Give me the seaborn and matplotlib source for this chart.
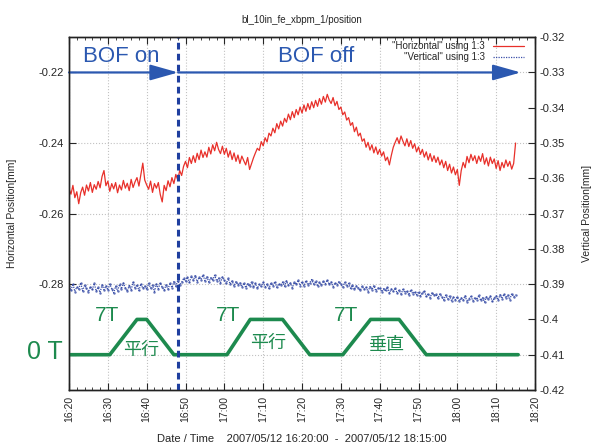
import seaborn as sns
import matplotlib.pyplot as plt
import matplotlib.dates as mdates
import matplotlib.ticker as mticker
import pandas as pd

# horizontal position [mm], one reading every 30 s from 16:20:00
horizontal = [
    -0.2530, -0.2545, -0.2520, -0.2555, -0.2538, -0.2572, -0.2541, -0.2525, -0.2548, -0.2519,
    -0.2536, -0.2512, -0.2540, -0.2518, -0.2531, -0.2509, -0.2527, -0.2495, -0.2478, -0.2521,
    -0.2508, -0.2537, -0.2515, -0.2530, -0.2512, -0.2541, -0.2519, -0.2533, -0.2506, -0.2528,
    -0.2514, -0.2535, -0.2503, -0.2526, -0.2510, -0.2498, -0.2522, -0.2489, -0.2457, -0.2505,
    -0.2519, -0.2531, -0.2508, -0.2540, -0.2515, -0.2528, -0.2512, -0.2546, -0.2567, -0.2520,
    -0.2535, -0.2507, -0.2524, -0.2498, -0.2515, -0.2489, -0.2505, -0.2478, -0.2492, -0.2466,
    -0.2452, -0.2470, -0.2441, -0.2458, -0.2436, -0.2455, -0.2429, -0.2447, -0.2420, -0.2441,
    -0.2425, -0.2440, -0.2412, -0.2431, -0.2405, -0.2422, -0.2398, -0.2418, -0.2430, -0.2409,
    -0.2432, -0.2415, -0.2440, -0.2422, -0.2447, -0.2428, -0.2452, -0.2434, -0.2458, -0.2437,
    -0.2450, -0.2462, -0.2441, -0.2475, -0.2458, -0.2442, -0.2428, -0.2415, -0.2421, -0.2396,
    -0.2408, -0.2385, -0.2397, -0.2372, -0.2380, -0.2358, -0.2371, -0.2345, -0.2360, -0.2338,
    -0.2352, -0.2330, -0.2341, -0.2318, -0.2334, -0.2311, -0.2328, -0.2305, -0.2320, -0.2298,
    -0.2315, -0.2292, -0.2310, -0.2288, -0.2305, -0.2283, -0.2300, -0.2279, -0.2296, -0.2274,
    -0.2290, -0.2268, -0.2284, -0.2262, -0.2278, -0.2288, -0.2271, -0.2294, -0.2282, -0.2305,
    -0.2298, -0.2320, -0.2312, -0.2335, -0.2328, -0.2350, -0.2342, -0.2368, -0.2355, -0.2380,
    -0.2372, -0.2395, -0.2388, -0.2412, -0.2398, -0.2420, -0.2405, -0.2428, -0.2411, -0.2432,
    -0.2418, -0.2437, -0.2425, -0.2450, -0.2440, -0.2462, -0.2435, -0.2412, -0.2398, -0.2385,
    -0.2402, -0.2380, -0.2395, -0.2408, -0.2388, -0.2410, -0.2393, -0.2415, -0.2402, -0.2425,
    -0.2411, -0.2432, -0.2418, -0.2440, -0.2425, -0.2448, -0.2430, -0.2452, -0.2436, -0.2455,
    -0.2440, -0.2462, -0.2448, -0.2470, -0.2452, -0.2478, -0.2460, -0.2485, -0.2468, -0.2490,
    -0.2475, -0.2520, -0.2478, -0.2455, -0.2470, -0.2438, -0.2456, -0.2432, -0.2450, -0.2436,
    -0.2458, -0.2437, -0.2452, -0.2430, -0.2460, -0.2442, -0.2465, -0.2440, -0.2458, -0.2445,
    -0.2472, -0.2450, -0.2478, -0.2455, -0.2470, -0.2448, -0.2466, -0.2452, -0.2474, -0.2458,
    -0.2400,
]

# vertical position [mm], same timestamps
vertical = [
    -0.3905, -0.3918, -0.3899, -0.3921, -0.3908, -0.3914, -0.3896, -0.3919, -0.3903, -0.3912,
    -0.3922, -0.3907, -0.3915, -0.3898, -0.3920, -0.3909, -0.3924, -0.3902, -0.3916, -0.3905,
    -0.3917, -0.3900, -0.3913, -0.3925, -0.3906, -0.3919, -0.3901, -0.3914, -0.3897, -0.3911,
    -0.3920, -0.3904, -0.3916, -0.3895, -0.3910, -0.3902, -0.3918, -0.3899, -0.3912, -0.3906,
    -0.3915, -0.3898, -0.3911, -0.3903, -0.3921, -0.3900, -0.3913, -0.3896, -0.3909, -0.3917,
    -0.3902, -0.3914, -0.3897, -0.3910, -0.3893, -0.3906, -0.3890, -0.3903, -0.3895, -0.3884,
    -0.3892, -0.3880, -0.3895, -0.3878, -0.3889, -0.3876, -0.3893, -0.3881, -0.3887, -0.3874,
    -0.3890, -0.3879, -0.3894, -0.3882, -0.3888, -0.3875, -0.3891, -0.3883, -0.3896, -0.3880,
    -0.3889, -0.3898, -0.3884, -0.3900, -0.3891, -0.3905, -0.3893, -0.3902, -0.3896, -0.3908,
    -0.3897, -0.3910, -0.3899, -0.3906, -0.3894, -0.3909, -0.3898, -0.3912, -0.3901, -0.3906,
    -0.3895, -0.3908, -0.3900, -0.3912, -0.3897, -0.3905, -0.3893, -0.3909, -0.3899, -0.3903,
    -0.3894, -0.3906, -0.3891, -0.3903, -0.3897, -0.3910, -0.3895, -0.3901, -0.3889, -0.3904,
    -0.3893, -0.3905, -0.3890, -0.3902, -0.3896, -0.3887, -0.3900, -0.3892, -0.3906, -0.3895,
    -0.3903, -0.3891, -0.3899, -0.3888, -0.3901, -0.3894, -0.3907, -0.3896, -0.3902, -0.3893,
    -0.3900, -0.3908, -0.3895, -0.3906, -0.3898, -0.3912, -0.3903, -0.3915, -0.3905, -0.3911,
    -0.3918, -0.3906, -0.3915, -0.3909, -0.3921, -0.3907, -0.3916, -0.3904, -0.3919, -0.3912,
    -0.3910, -0.3922, -0.3913, -0.3918, -0.3908, -0.3925, -0.3914, -0.3920, -0.3911, -0.3926,
    -0.3917, -0.3928, -0.3915, -0.3924, -0.3919, -0.3931, -0.3916, -0.3927, -0.3921, -0.3930,
    -0.3922, -0.3933, -0.3925, -0.3919, -0.3935, -0.3927, -0.3938, -0.3924, -0.3932, -0.3929,
    -0.3940, -0.3928, -0.3936, -0.3945, -0.3931, -0.3942, -0.3934, -0.3947, -0.3937, -0.3944,
    -0.3936, -0.3948, -0.3939, -0.3945, -0.3933, -0.3950, -0.3941, -0.3935, -0.3947, -0.3938,
    -0.3944, -0.3932, -0.3946, -0.3938, -0.3951, -0.3936, -0.3943, -0.3934, -0.3949, -0.3940,
    -0.3933, -0.3945, -0.3930, -0.3941, -0.3928, -0.3939, -0.3931, -0.3944, -0.3927, -0.3936,
    -0.3930,
]

# magnet field sketch (drawn on the right axis: -0.41 = 0 T, -0.40 = 7T)
magnet_times = ["16:20:00", "16:30:30", "16:37:30", "16:40:00", "16:47:00", "17:00:40", "17:06:40",
                "17:15:00", "17:22:00", "17:30:30", "17:37:40", "17:45:00", "17:52:00", "18:15:40"]
magnet_vals = [-0.41, -0.41, -0.40, -0.40, -0.41, -0.41, -0.40,
               -0.40, -0.41, -0.41, -0.40, -0.40, -0.41, -0.41]

# annotations: (time, right-axis value, text)
field_labels = [("16:29:50", -0.3990, "7T"), ("17:01:00", -0.3990, "7T"), ("17:31:25", -0.3990, "7T")]
mode_labels = [("16:38:30", -0.4089, "平行"), ("17:11:20", -0.4067, "平行"), ("17:41:40", -0.4073, "垂直")]

day = "2007-05-12 "
bof_switch = "16:48:06"
left_ticks = [-0.30, -0.28, -0.26, -0.24, -0.22]
left_ticklabels = ["", "-0.28", "-0.26", "-0.24", "-0.22"]
right_ticks = [-0.42, -0.41, -0.40, -0.39, -0.38, -0.37, -0.36, -0.35, -0.34, -0.33, -0.32]

times = pd.date_range(day + "16:20:00", periods=len(horizontal), freq="30s")
df = pd.DataFrame({"time": times, "horizontal": horizontal, "vertical": vertical})
mag = pd.DataFrame({"time": pd.to_datetime([day + t for t in magnet_times]), "field": magnet_vals})

def tnum(t):
    return mdates.date2num(pd.Timestamp(day + t))

sns.set_style("ticks")
plt.rcParams['font.family'] = ['Liberation Sans', 'Noto Sans CJK JP']

RED = "#e8302a"
BLUE = "#3a4fa8"
ARROW = "#2b58b0"
GREEN = "#1d8a4e"

fig = plt.figure(figsize=(5.93, 4.48), dpi=100)
ax = fig.add_axes([0.1164, 0.1295, 0.7858, 0.7875])
ax2 = ax.twinx()

sns.lineplot(data=df, x="time", y="horizontal", ax=ax, color=RED, lw=0.9)
sns.lineplot(data=df, x="time", y="vertical", ax=ax2, color=BLUE, lw=0.9, ls=(0, (1, 1)))
sns.scatterplot(data=df, x="time", y="vertical", ax=ax2, color=BLUE, s=3, linewidth=0, alpha=0.8)
sns.lineplot(data=mag, x="time", y="field", ax=ax2, color=GREEN, lw=2.6)

ax.set_xlim(pd.Timestamp(day + "16:20:00"), pd.Timestamp(day + "18:20:00"))
ax.set_ylim(-0.31, -0.21)
ax2.set_ylim(-0.42, -0.32)

ax.xaxis.set_major_locator(mdates.MinuteLocator(byminute=range(0, 60, 10)))
ax.xaxis.set_minor_locator(mdates.MinuteLocator(byminute=range(0, 60, 2)))
ax.xaxis.set_major_formatter(mdates.DateFormatter("%H:%M"))
ax.set_yticks(left_ticks)
ax.set_yticklabels(left_ticklabels)
ax2.set_yticks(right_ticks)
ax2.yaxis.set_major_formatter(mticker.FuncFormatter(lambda v, p: f"{v:g}"))

ax.tick_params(axis="x", which="both", direction="in", top=True, labelsize=7.5, labelrotation=90, pad=4)
ax.tick_params(axis="x", which="major", length=5)
ax.tick_params(axis="x", which="minor", length=2.5)
ax.tick_params(axis="y", direction="in", labelsize=8, length=5)
ax2.tick_params(axis="y", direction="in", labelsize=8, length=5)

ax.grid(True, which="major", color="#c2c2c2", ls=":", lw=0.8)
for a in (ax, ax2):
    for s in a.spines.values():
        s.set_linewidth(1.0)
        s.set_color("#222222")

ax.set_xlabel("Date / Time    2007/05/12 16:20:00  -  2007/05/12 18:15:00", fontsize=8, labelpad=9)
ax.set_ylabel("Horizontal Position[mm]", fontsize=7.5, labelpad=16)
ax2.set_ylabel("Vertical Position[mm]", fontsize=7.5, labelpad=12)
ax.set_title("bl_10in_fe_xbpm_1/position", fontsize=7, pad=10)

# BOF switch line and arrows
ax2.axvline(pd.Timestamp(day + bof_switch), color="#1f3f9f", ls=(0, (2.2, 1.4)), lw=2.2)
arrow = dict(arrowstyle="-|>,head_length=0.85,head_width=0.24", color=ARROW, lw=1.6,
             shrinkA=0, shrinkB=0, mutation_scale=20)
ax.annotate("", xy=(tnum(bof_switch), -0.22), xytext=(tnum("16:20:00"), -0.22), arrowprops=arrow)
ax.annotate("", xy=(tnum("18:16:20"), -0.22), xytext=(tnum(bof_switch), -0.22), arrowprops=arrow)
ax.text(tnum("16:33:24"), -0.2155, "BOF on", color=ARROW, fontsize=16, ha="center", va="center")
ax.text(tnum("17:23:40"), -0.2155, "BOF off", color=ARROW, fontsize=16, ha="center", va="center")

for t, v, s in field_labels:
    ax2.text(tnum(t), v, s, color=GREEN, fontsize=15, ha="center", va="center")
for t, v, s in mode_labels:
    ax2.text(tnum(t), v, s, color=GREEN, fontsize=13, ha="center", va="center")
ax2.text(tnum("16:13:50"), -0.4093, "0 T", color=GREEN, fontsize=18, ha="center", va="center", clip_on=False)

h_line = ax.get_lines()[0]
v_line = ax2.get_lines()[0]
ax2.legend([h_line, v_line], ['"Horizontal" using 1:3', '"Vertical" using 1:3'],
           loc="upper right", frameon=False, fontsize=7, handlelength=3.2,
           borderaxespad=0.1, borderpad=0.3, labelspacing=0.1, markerfirst=False,
           bbox_to_anchor=(0.985, 1.0))

fig.savefig("out.png", dpi=100)
